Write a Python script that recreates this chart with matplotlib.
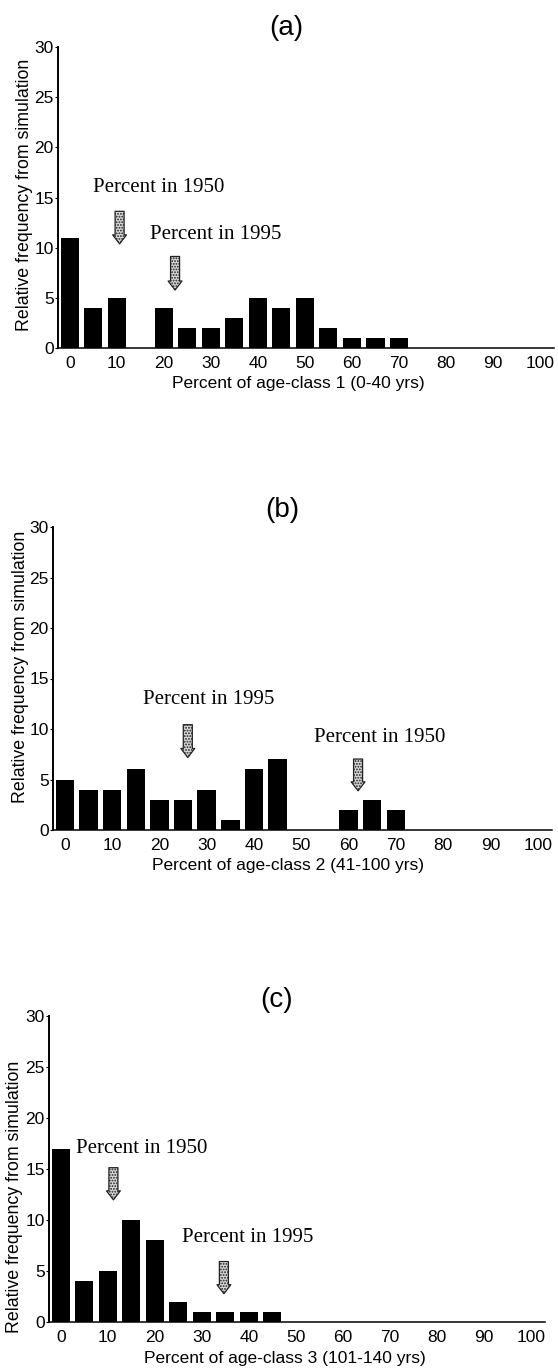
import matplotlib
matplotlib.use('Agg')
import matplotlib.pyplot as plt
from matplotlib.patches import FancyArrowPatch

plt.rcParams['font.family'] = ['Liberation Sans', 'DejaVu Sans']
plt.rcParams['hatch.color'] = '#555555'
plt.rcParams['hatch.linewidth'] = 0.9

# bin centres (percent) and relative frequencies
bins = [0, 5, 10, 15, 20, 25, 30, 35, 40, 45, 50, 55, 60, 65, 70, 75, 80, 85, 90, 95, 100]
freq_a = [11, 4, 5, 0, 4, 2, 2, 3, 5, 4, 5, 2, 1, 1, 1, 0, 0, 0, 0, 0, 0]
freq_b = [5, 4, 4, 6, 3, 3, 4, 1, 6, 7, 0, 0, 2, 3, 2, 0, 0, 0, 0, 0, 0]
freq_c = [17, 4, 5, 10, 8, 2, 1, 1, 1, 1, 0, 0, 0, 0, 0, 0, 0, 0, 0, 0, 0]

titles = ['(a)', '(b)', '(c)']
xlabels = ['Percent of age-class 1 (0-40 yrs)',
           'Percent of age-class 2 (41-100 yrs)',
           'Percent of age-class 3 (101-140 yrs)']
ylabel = 'Relative frequency from simulation'

# annotations: (text, text x, text y, arrow x, arrow top, arrow bottom)
notes_a = [('Percent in 1950', 19, 16, 10.6, 13.9, 10.1),
           ('Percent in 1995', 31, 11.3, 22.4, 9.4, 5.5)]
notes_b = [('Percent in 1995', 30.5, 12.9, 26, 10.7, 6.9),
           ('Percent in 1950', 66.5, 9.2, 62, 7.3, 3.6)]
notes_c = [('Percent in 1950', 17.2, 17, 11.2, 15.4, 11.7),
           ('Percent in 1995', 39.8, 8.3, 34.7, 6.2, 2.5)]

W, H = 558, 1372
fig = plt.figure(figsize=(W / 100, H / 100), dpi=100)

# panel boxes in pixels: left, right, top, bottom
boxes = [(58, 554, 47, 348), (53, 552, 527, 830), (49, 545, 1016, 1322)]
title_pos = [(286, 28), (282, 510), (277, 1000)]
ylabel_pos = [(25, 195), (21, 667), (15, 1197)]
xlabel_x = [0.484, 0.47, 0.476]

for i, (freq, notes) in enumerate(zip([freq_a, freq_b, freq_c], [notes_a, notes_b, notes_c])):
    l, r, t, b = boxes[i]
    ax = fig.add_axes([l / W, 1 - b / H, (r - l) / W, (b - t) / H])
    ax.bar(bins, freq, width=3.9, color='black', align='center')
    ax.set_xlim(-2.5, 103)
    ax.set_ylim(0, 30)
    ax.set_xticks(range(0, 101, 10))
    ax.set_yticks(range(0, 31, 5))
    ax.spines['top'].set_visible(False)
    ax.spines['right'].set_visible(False)
    ax.spines['left'].set_linewidth(1.4)
    ax.spines['bottom'].set_linewidth(1.1)
    ax.tick_params(axis='x', length=0, pad=6, labelsize=12.5)
    ax.tick_params(axis='y', length=2, pad=1, labelsize=12.5)
    ax.set_xlabel(xlabels[i], fontsize=12.5)
    ax.xaxis.set_label_coords(xlabel_x[i], -0.118)
    ax.xaxis.label.set_va('center')
    fig.text(ylabel_pos[i][0] / W, 1 - ylabel_pos[i][1] / H, ylabel, rotation=90,
             ha='center', va='center', fontsize=12.8)
    fig.text(title_pos[i][0] / W, 1 - title_pos[i][1] / H, titles[i],
             ha='center', va='center', fontsize=20)
    for txt, tx, ty, axx, atop, abot in notes:
        ax.text(tx, ty, txt, ha='center', va='center', fontsize=15,
                family=['Liberation Serif', 'DejaVu Serif'])
        arr = FancyArrowPatch((axx, atop), (axx, abot),
                              arrowstyle='simple,head_width=1.0,head_length=0.65,tail_width=0.65',
                              mutation_scale=10, facecolor='#d8d8d8', edgecolor='#222222',
                              hatch='......', linewidth=0.9)
        ax.add_patch(arr)

plt.savefig('out.png', dpi=100, facecolor='white')
plt.close()
